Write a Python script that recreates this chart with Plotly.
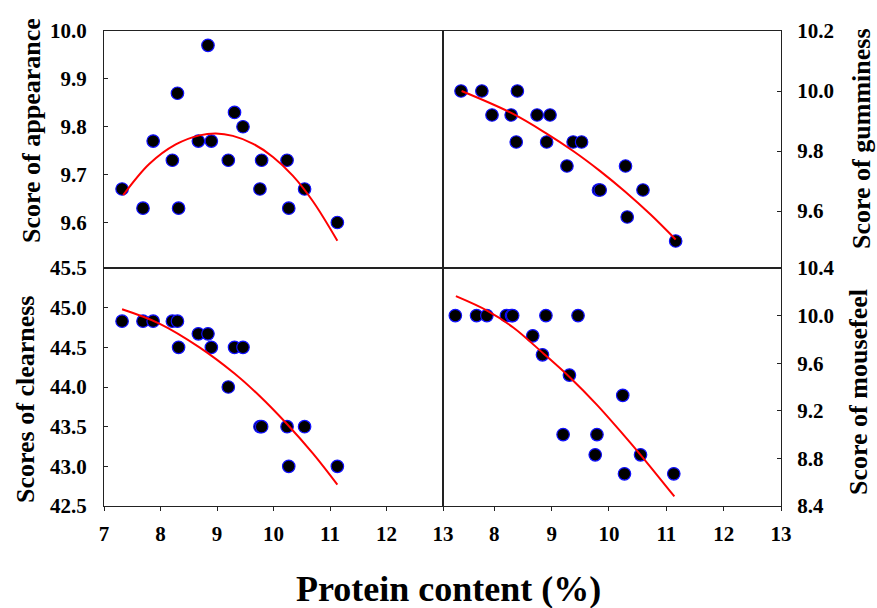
import plotly.graph_objects as go

# ---------------- data ----------------
protein = [7.32, 7.69, 7.87, 8.21, 8.30, 8.32, 8.67, 8.84, 8.90, 9.20,
           9.31, 9.46, 9.76, 9.79, 10.24, 10.27, 10.55, 11.13]
appearance = [9.67, 9.63, 9.77, 9.73, 9.87, 9.63, 9.77, 9.97, 9.77, 9.73,
              9.83, 9.80, 9.67, 9.73, 9.73, 9.63, 9.67, 9.60]
gumminess = [10.0, 10.0, 9.92, 9.92, 9.83, 10.0, 9.92, 9.83, 9.92, 9.75,
             9.83, 9.83, 9.67, 9.67, 9.75, 9.58, 9.67, 9.50]
clearness = [44.83, 44.83, 44.83, 44.83, 44.83, 44.5, 44.67, 44.67, 44.5, 44.0,
             44.5, 44.5, 43.5, 43.5, 43.5, 43.0, 43.5, 43.0]
mousefeel = [10.0, 10.0, 10.0, 10.0, 10.0, 10.0, 9.83, 9.67, 10.0, 9.0,
             9.5, 10.0, 8.83, 9.0, 9.33, 8.67, 8.83, 8.67]

# fitted curves
fit_x_app = [7.34, 7.80, 8.27, 8.69, 8.98, 9.28, 9.63, 9.99, 10.34, 10.70, 11.13]
fit_app = [9.657, 9.722, 9.763, 9.782, 9.786, 9.781, 9.765, 9.737, 9.698, 9.644, 9.562]
fit_x_gum = [7.33, 8.22, 8.84, 9.31, 9.79, 10.23, 10.68, 11.13]
fit_gum = [10.0, 9.926, 9.858, 9.80, 9.733, 9.665, 9.589, 9.505]
fit_x_clear = [7.32, 7.98, 8.69, 9.31, 9.75, 10.23, 10.70, 11.13]
fit_clear = [44.98, 44.80, 44.50, 44.17, 43.89, 43.54, 43.16, 42.77]
fit_x_mouse = [7.33, 7.88, 8.33, 8.86, 9.32, 9.79, 10.25, 10.55, 11.14]
fit_mouse = [10.163, 10.04, 9.90, 9.68, 9.48, 9.25, 9.0, 8.83, 8.48]

x_ticks = [7, 8, 9, 10, 11, 12, 13]
app_ticks = [9.6, 9.7, 9.8, 9.9, 10.0]
gum_ticks = [9.6, 9.8, 10.0, 10.2]
clear_ticks = [42.5, 43.0, 43.5, 44.0, 44.5, 45.0, 45.5]
mouse_ticks = [8.4, 8.8, 9.2, 9.6, 10.0, 10.4]

# ---------------- figure ----------------
W, H = 877, 608
FONT = "Liberation Serif"
fig = go.Figure()

marker = dict(size=12.5, color="black", line=dict(color="#1010ff", width=1.2))
line = dict(color="red", width=2, shape="spline", smoothing=1.0)

panels = [
    (protein, appearance, fit_x_app, fit_app, "x", "y"),
    (protein, gumminess, fit_x_gum, fit_gum, "x2", "y2"),
    (protein, clearness, fit_x_clear, fit_clear, "x3", "y3"),
    (protein, mousefeel, fit_x_mouse, fit_mouse, "x4", "y4"),
]
for px, py, fx, fy, xa, ya in panels:
    fig.add_trace(go.Scatter(x=px, y=py, mode="markers", marker=marker,
                             xaxis=xa, yaxis=ya, showlegend=False))
    fig.add_trace(go.Scatter(x=fx, y=fy, mode="lines", line=line,
                             xaxis=xa, yaxis=ya, showlegend=False))

xl = (104 / W, 443 / W)
xr = (443 / W, 781 / W)
yt = (1 - 268 / H, 1 - 31 / H)
yb = (1 - 506 / H, 1 - 268 / H)

tickfont = dict(family=FONT, size=21, color="black", weight="bold")
common = dict(showline=True, linecolor="#222", linewidth=1, mirror=True,
              showgrid=False, zeroline=False, tickfont=tickfont, automargin=False,
              tickcolor="#222", ticklen=4, tickwidth=1)

fig.update_layout(
    width=W, height=H,
    margin=dict(l=0, r=0, t=0, b=0, autoexpand=False),
    plot_bgcolor="white", paper_bgcolor="white",
    xaxis=dict(domain=xl, range=[7, 13], tickvals=x_ticks, showticklabels=False,
               ticks="", anchor="y", **common),
    yaxis=dict(domain=yt, range=[9.505, 10.0], tickvals=app_ticks, tickformat=".1f",
               ticks="inside", anchor="x", ticklabelstandoff=12, **common),
    xaxis2=dict(domain=xr, range=[7, 13], tickvals=x_ticks, showticklabels=False,
                ticks="", anchor="y2", **common),
    yaxis2=dict(domain=yt, range=[9.41, 10.2], tickvals=gum_ticks, tickformat=".1f",
                side="right", ticks="inside", anchor="x2", ticklabelstandoff=11, **common),
    xaxis3=dict(domain=xl, range=[7, 13], tickvals=x_ticks, ticks="outside",
                anchor="y3", ticklabelstandoff=5, **common),
    yaxis3=dict(domain=yb, range=[42.5, 45.5], tickvals=clear_ticks, tickformat=".1f",
                ticks="inside", anchor="x3", ticklabelstandoff=12, **common),
    xaxis4=dict(domain=xr, range=[7.105, 13], tickvals=x_ticks, ticks="outside",
                anchor="y4", ticklabelstandoff=5, **common),
    yaxis4=dict(domain=yb, range=[8.4, 10.4], tickvals=mouse_ticks, tickformat=".1f",
                side="right", ticks="inside", anchor="x4", ticklabelstandoff=11, **common),
)

title_font = dict(family=FONT, size=26, color="black", weight="bold")
ann = [
    ("Score of appearance", 31, 131, -90, title_font),
    ("Scores of clearness", 25, 400, -90, title_font),
    ("Score of gumminess", 861, 139, -90, title_font),
    ("Score of mousefeel", 858, 392, -90, title_font),
    ("Protein content (%)", 448, 589, 0,
     dict(family=FONT, size=36, color="black", weight="bold")),
]
for text, x, y, ang, f in ann:
    fig.add_annotation(text=text, x=x / W, y=1 - y / H, xref="paper", yref="paper",
                       showarrow=False, textangle=ang, font=f,
                       xanchor="center", yanchor="middle")

fig.write_html("out.html")
